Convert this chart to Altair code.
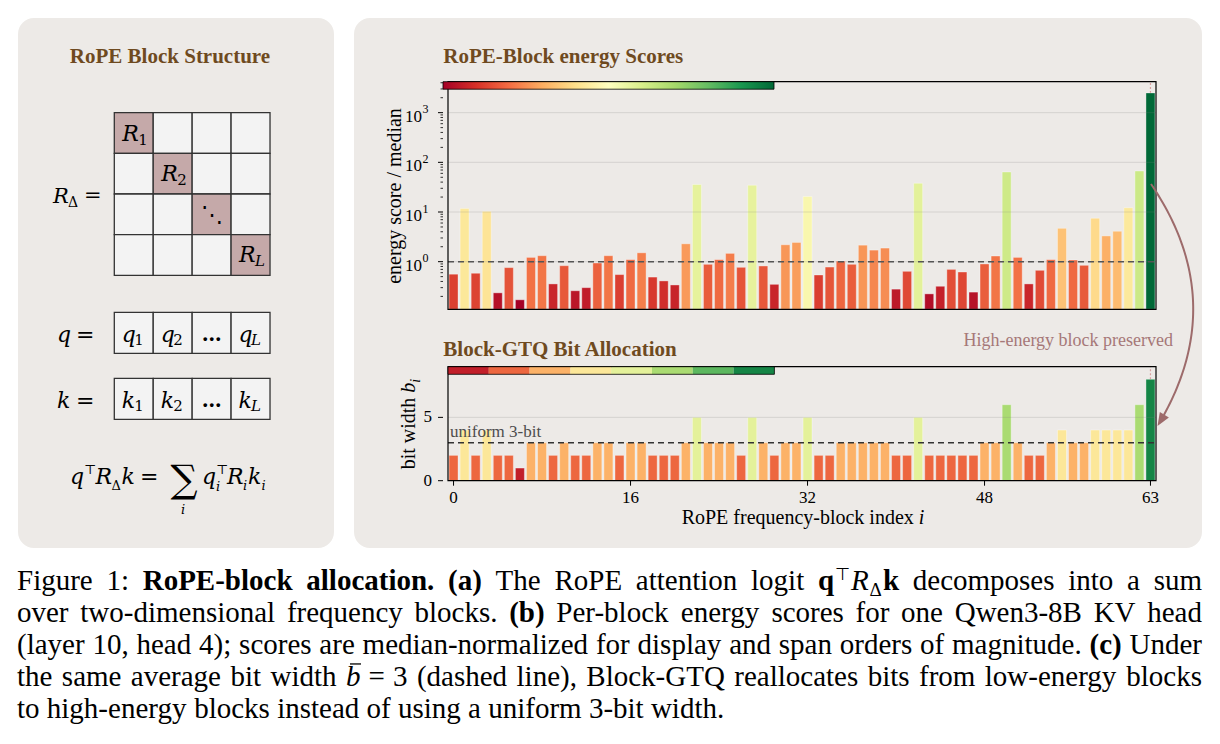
import math
import altair as alt
import pandas as pd

# ---------------- data ----------------
block_index = list(range(64))
energy_score = [
    0.56, 11.7, 0.585, 10.3, 0.236, 0.76, 0.171, 1.22, 1.32, 0.357,
    0.83, 0.26, 0.30, 0.94, 1.32, 0.55, 1.10, 1.51, 0.49, 0.41,
    0.34, 2.29, 35.8, 0.885, 1.10, 1.47, 0.77, 34.7, 0.82, 0.35,
    2.19, 2.44, 20.6, 0.54, 0.78, 1.03, 0.885, 2.15, 1.71, 1.88,
    0.28, 0.64, 38.0, 0.225, 0.32, 0.70, 0.62, 0.244, 0.90, 1.30,
    64.0, 1.22, 0.357, 0.67, 1.10, 4.7, 1.08, 0.845, 7.5, 3.3,
    4.1, 12.2, 67.0, 2500.0,
]
bit_width = [
    2, 4, 2, 4, 2, 2, 1, 3, 3, 2,
    3, 2, 2, 3, 3, 2, 3, 3, 2, 2,
    2, 3, 5, 3, 3, 3, 2, 5, 3, 2,
    3, 3, 5, 2, 2, 3, 3, 3, 3, 3,
    2, 2, 5, 2, 2, 2, 2, 2, 3, 3,
    6, 3, 2, 2, 3, 4, 3, 3, 4, 4,
    4, 4, 6, 8,
]
bit_levels = [1, 2, 3, 4, 5, 6, 7, 8]
decade_ticks = [1, 10, 100, 1000]
decade_base = "10"
decade_exponents = ["0", "1", "2", "3"]
minor_ticks = [0.2, 0.3, 0.4, 0.5, 0.6, 0.7, 0.8, 0.9,
               2, 3, 4, 5, 6, 7, 8, 9,
               20, 30, 40, 50, 60, 70, 80, 90,
               200, 300, 400, 500, 600, 700, 800, 900,
               2000, 3000, 4000]
index_ticks = [0, 16, 32, 48, 63]
bit_ticks = [0, 5]
median_level = 1.0
uniform_bits = 3

# ---------------- styling ----------------
W, H = 1220, 744
SERIF = "Liberation Serif"
MATH = "DejaVu Serif"
PANEL_FILL = "#edeae7"
BROWN = "#6f4a1f"
ROSE = "#c5a9a9"
CELL = "#f3f3f3"
ARROW = "#9d6b6b"
NOTE = "#a67878"
RDYLGN = ["#a50026", "#d73027", "#f46d43", "#fdae61", "#fee08b", "#ffffbf",
          "#d9ef8b", "#a6d96a", "#66bd63", "#1a9850", "#006837"]
TICK_FS = 17

# plot rectangles (pixels)
PX0, PX1 = 443, 1161
TOP_Y0, TOP_Y1 = 81.7, 309.3
BOT_Y0, BOT_Y1 = 366.7, 480.7
X_DOM = [-0.5, 63.5]
E_DOM = [0.11, 4200]
B_DOM = [0, 9]
CBAR_PX = 774  # right end of the inset colour bars

# glyph advance widths (Times metrics, 1/1000 em)
REG_W = {' ': 250, '(': 333, ')': 333, ',': 250, '-': 333, '.': 250, ':': 278, ';': 278,
         '=': 564, '/': 278}
REG_W.update({d: 500 for d in "0123456789"})
REG_W.update(dict(zip("ABCDEFGHIJKLMNOPQRSTUVWXYZ",
                      [722, 667, 667, 722, 611, 556, 722, 722, 333, 389, 722, 611, 889,
                       722, 722, 556, 722, 667, 556, 611, 722, 722, 944, 722, 722, 611])))
REG_W.update(dict(zip("abcdefghijklmnopqrstuvwxyz",
                      [444, 500, 444, 500, 444, 333, 500, 500, 278, 278, 500, 278, 778,
                       500, 500, 500, 500, 333, 389, 278, 500, 500, 722, 500, 500, 444])))
BOLD_W = {' ': 250, '(': 333, ')': 333, '-': 333, '.': 250, 'E': 667, 'P': 611, 'R': 722,
          'a': 500, 'b': 556, 'c': 444, 'i': 278, 'k': 556, 'l': 278, 'n': 556, 'o': 500,
          'q': 556, 't': 333}


def text_width(s, bold=False):
    table = BOLD_W if bold else REG_W
    return sum(table.get(ch, 500) for ch in s) / 1000.0


def T(x, y, t, s, font=SERIF, weight="normal", style="normal", color="black",
      align="left", angle=0):
    return dict(x=x, y=y, t=t, s=s, font=font, weight=weight, style=style,
                color=color, align=align, angle=angle)


def text_layers(items):
    groups = {}
    for it in items:
        key = (it["font"], it["weight"], it["style"], it["color"], it["align"], it["angle"])
        groups.setdefault(key, []).append({"x": it["x"], "y": it["y"], "t": it["t"], "s": it["s"]})
    out = []
    for (font, weight, style, color, align, angle), rows in groups.items():
        out.append(
            alt.Chart(pd.DataFrame(rows))
            .mark_text(font=font, fontWeight=weight, fontStyle=style, color=color,
                       align=align, baseline="alphabetic", angle=angle)
            .encode(x=alt.X("x:Q", scale=None), y=alt.Y("y:Q", scale=None),
                    text="t:N", size=alt.Size("s:Q", scale=None))
        )
    return out


def rect_layer(rows, **mark):
    return (
        alt.Chart(pd.DataFrame(rows))
        .mark_rect(**mark)
        .encode(x=alt.X("x:Q", scale=None), x2="x2:Q",
                y=alt.Y("y:Q", scale=None), y2="y2:Q",
                color=alt.Color("fill:N", scale=None))
    )


# ---------------- background panels ----------------
panels = rect_layer([
    dict(x=18, x2=334, y=18, y2=548, fill=PANEL_FILL),
    dict(x=354, x2=1202, y=18, y2=548, fill=PANEL_FILL),
], cornerRadius=16)

# ---------------- left panel: block-diagonal structure ----------------
GX0, GY0, CW, CH = 114.3, 112.7, 38.93, 40.65
VEC_ROWS = [("q", 312.3), ("k", 378.3)]
VH = 41.0
cells = []
for r in range(4):
    for c in range(4):
        cells.append(dict(x=GX0 + c * CW, x2=GX0 + (c + 1) * CW,
                          y=GY0 + r * CH, y2=GY0 + (r + 1) * CH,
                          fill=ROSE if r == c else CELL))
for _, y0 in VEC_ROWS:
    for c in range(4):
        cells.append(dict(x=GX0 + c * CW, x2=GX0 + (c + 1) * CW, y=y0, y2=y0 + VH, fill=CELL))
grid = rect_layer(cells, stroke="#333333", strokeWidth=1.3)

left_text = [T(170, 63.3, "RoPE Block Structure", 21, weight="bold", color=BROWN, align="center")]
left_text += [T(53, 202.5, "R", 21, font=MATH, style="italic"),
              T(68, 207, "Δ", 14, font=MATH),
              T(84, 202, "=", 21, font=MATH)]
subs = ["1", "2", None, "L"]
for d, sub in enumerate(subs):
    cx = GX0 + (d + 0.5) * CW
    cy = GY0 + (d + 0.5) * CH
    if sub is None:
        left_text.append(T(cx, cy + 7.5, "⋱", 22, font=MATH, align="center"))
    else:
        left_text.append(T(cx - 11.5, cy + 7.5, "R", 22, font=MATH, style="italic"))
        left_text.append(T(cx + 4.5, cy + 11.5, sub, 15, font=MATH,
                           style="italic" if sub == "L" else "normal"))
for name, y0 in VEC_ROWS:
    cy = y0 + VH / 2
    left_text.append(T(57, cy + 9, name, 22, font=MATH, style="italic"))
    left_text.append(T(76, cy + 9, "=", 22, font=MATH))
    for c, sub in enumerate(subs):
        cx = GX0 + (c + 0.5) * CW
        if sub is None:
            left_text.append(T(cx, cy + 8, "…", 20, font=MATH, weight="bold", align="center"))
        else:
            left_text.append(T(cx - 12, cy + 9, name, 22, font=MATH, style="italic"))
            left_text.append(T(cx + 0.5, cy + 12.5, sub, 15, font=MATH,
                               style="italic" if sub == "L" else "normal"))

# q^T R_Δ k = Σ_i q_i^T R_i k_i, laid out glyph by glyph
FB, FF, FS = 484, 22, 13
left_text += [
    T(70, FB, "q", FF, font=MATH, style="italic"),
    T(84, FB - 10, "⊤", FS, font=MATH),
    T(95.5, FB, "R", FF, font=MATH, style="italic"),
    T(111.5, FB + 6, "Δ", FS, font=MATH),
    T(121.5, FB, "k", FF, font=MATH, style="italic"),
    T(140, FB, "=", FF, font=MATH),
    T(184, FB + 8, "∑", 38, font=MATH, align="center"),
    T(183, FB + 30, "i", FS, font=MATH, style="italic", align="center"),
    T(202, FB, "q", FF, font=MATH, style="italic"),
    T(216, FB - 10, "⊤", FS, font=MATH),
    T(216, FB + 7, "i", FS, font=MATH, style="italic"),
    T(227, FB, "R", FF, font=MATH, style="italic"),
    T(243, FB + 6, "i", FS, font=MATH, style="italic"),
    T(248, FB, "k", FF, font=MATH, style="italic"),
    T(261.5, FB + 6, "i", FS, font=MATH, style="italic"),
]

# ---------------- scales ----------------
xs = alt.Scale(domain=X_DOM, range=[PX0, PX1], nice=False, zero=False)
ys_top = alt.Scale(type="log", domain=E_DOM, range=[TOP_Y1, TOP_Y0], nice=False)
ys_bot = alt.Scale(domain=B_DOM, range=[BOT_Y1, BOT_Y0], nice=False, zero=False)
c_top = alt.Scale(type="log", domain=[min(energy_score), max(energy_score)],
                  scheme="redyellowgreen", nice=False)
c_bot = alt.Scale(type="linear", domain=[0.5, 8.5], scheme="redyellowgreen", nice=False)

frac = (CBAR_PX - PX0) / (PX1 - PX0)
cbar_x1 = X_DOM[0] + frac * (X_DOM[1] - X_DOM[0])


def hrule(values, yscale, color, width=1.0, dash=None, opacity=1.0):
    mark = dict(color=color, strokeWidth=width, opacity=opacity)
    if dash:
        mark["strokeDash"] = dash
    return alt.Chart(pd.DataFrame({"v": values, "a": X_DOM[0], "b": X_DOM[1]})).mark_rule(**mark).encode(
        x=alt.X("a:Q", scale=xs, axis=None), x2="b:Q", y=alt.Y("v:Q", scale=yscale, axis=None))


def frame(yscale, lo, hi):
    return alt.Chart(pd.DataFrame({"a": [X_DOM[0]], "b": [X_DOM[1]], "lo": [lo], "hi": [hi]})).mark_rect(
        fill="white", fillOpacity=0, stroke="black", strokeWidth=1.2).encode(
        x=alt.X("a:Q", scale=xs, axis=None), x2="b:Q",
        y=alt.Y("lo:Q", scale=yscale, axis=None), y2="hi:Q")


def y_ticks(values, yscale, length, width=1.0):
    return alt.Chart(pd.DataFrame({"v": values})).mark_rule(color="black", strokeWidth=width).encode(
        y=alt.Y("v:Q", scale=yscale, axis=None), x=alt.value(PX0 - length), x2=alt.value(PX0))


def y_labels(values, labels, yscale, x_right, size=TICK_FS, dy=0, align="right", baseline="middle"):
    return alt.Chart(pd.DataFrame({"v": values, "lab": labels})).mark_text(
        font=SERIF, fontSize=size, align=align, baseline=baseline, color="black", dy=dy).encode(
        y=alt.Y("v:Q", scale=yscale, axis=None), x=alt.value(x_right), text="lab:N")


# ---------------- top panel: energy scores ----------------
df_e = pd.DataFrame({"i": block_index, "e": energy_score, "floor": E_DOM[0]})
top_bars = alt.Chart(df_e).mark_bar(width=9, stroke="white", strokeWidth=0.7, strokeOpacity=0.5).encode(
    x=alt.X("i:Q", scale=xs, axis=None),
    y=alt.Y("e:Q", scale=ys_top, axis=None),
    y2="floor:Q",
    color=alt.Color("e:Q", scale=c_top, legend=None),
)
top_mark63 = alt.Chart(pd.DataFrame({"i": [63], "lo": [energy_score[63]], "hi": [E_DOM[1]]})).mark_rule(
    color="#d9a0a0", strokeDash=[2, 2], strokeWidth=1.2).encode(
    x=alt.X("i:Q", scale=xs, axis=None), y=alt.Y("lo:Q", scale=ys_top, axis=None), y2="hi:Q")
gradient = alt.LinearGradient(
    gradient="linear", x1=0, x2=1, y1=0, y2=0,
    stops=[alt.GradientStop(color=c, offset=k / (len(RDYLGN) - 1)) for k, c in enumerate(RDYLGN)])
top_cbar = alt.Chart(pd.DataFrame({"k": [0]})).mark_rect(color=gradient, stroke="black", strokeWidth=0.8).encode(
    x=alt.value(PX0), x2=alt.value(CBAR_PX), y=alt.value(TOP_Y0), y2=alt.value(89.2))
top_chart = alt.layer(
    top_mark63, top_bars,
    hrule(decade_ticks, ys_top, "#808080", opacity=0.22),
    hrule([median_level], ys_top, "#555555", width=1.5, dash=[6, 4]),
    frame(ys_top, E_DOM[0], E_DOM[1]),
    top_cbar,
    y_ticks(decade_ticks, ys_top, 5),
    y_ticks(minor_ticks, ys_top, 2.5, 0.8),
    # "10" with a raised exponent, like 10^k
    y_labels(decade_ticks, [decade_base] * len(decade_ticks), ys_top, 422, dy=9, baseline="alphabetic"),
    y_labels(decade_ticks, decade_exponents, ys_top, 422.5, size=12, dy=0.5, align="left",
             baseline="alphabetic"),
)

# ---------------- bottom panel: bit allocation ----------------
df_b = pd.DataFrame({"i": block_index, "b": bit_width, "zero": 0})
bot_bars = alt.Chart(df_b).mark_bar(width=9, stroke="white", strokeWidth=0.7, strokeOpacity=0.5).encode(
    x=alt.X("i:Q", scale=xs, axis=None),
    y=alt.Y("b:Q", scale=ys_bot, axis=None),
    y2="zero:Q",
    color=alt.Color("b:Q", scale=c_bot, legend=None),
)
bot_mark63 = alt.Chart(pd.DataFrame({"i": [63], "lo": [bit_width[63]], "hi": [B_DOM[1]]})).mark_rule(
    color="#d9a0a0", strokeDash=[2, 2], strokeWidth=1.2).encode(
    x=alt.X("i:Q", scale=xs, axis=None), y=alt.Y("lo:Q", scale=ys_bot, axis=None), y2="hi:Q")
seg = (cbar_x1 - X_DOM[0]) / len(bit_levels)
cb_lo = B_DOM[1] - (374.3 - BOT_Y0) / (BOT_Y1 - BOT_Y0) * (B_DOM[1] - B_DOM[0])
df_cb = pd.DataFrame({"b": bit_levels,
                      "a": [X_DOM[0] + (lv - 1) * seg for lv in bit_levels],
                      "c": [X_DOM[0] + lv * seg for lv in bit_levels],
                      "lo": cb_lo, "hi": B_DOM[1]})
bot_cbar = alt.Chart(df_cb).mark_rect().encode(
    x=alt.X("a:Q", scale=xs, axis=None), x2="c:Q",
    y=alt.Y("lo:Q", scale=ys_bot, axis=None), y2="hi:Q",
    color=alt.Color("b:Q", scale=c_bot, legend=None))
bot_cbar_box = alt.Chart(pd.DataFrame({"a": [X_DOM[0]], "c": [cbar_x1], "lo": [cb_lo], "hi": [B_DOM[1]]})).mark_rect(
    fill="white", fillOpacity=0, stroke="black", strokeWidth=0.8).encode(
    x=alt.X("a:Q", scale=xs, axis=None), x2="c:Q", y=alt.Y("lo:Q", scale=ys_bot, axis=None), y2="hi:Q")
bot_xticks = alt.Chart(pd.DataFrame({"v": index_ticks})).mark_rule(color="black", strokeWidth=1).encode(
    x=alt.X("v:Q", scale=xs, axis=None), y=alt.value(BOT_Y1), y2=alt.value(BOT_Y1 + 5))
bot_xlabels = alt.Chart(pd.DataFrame({"v": index_ticks, "lab": [str(v) for v in index_ticks]})).mark_text(
    font=SERIF, fontSize=TICK_FS, align="center", baseline="alphabetic", color="black").encode(
    x=alt.X("v:Q", scale=xs, axis=None), y=alt.value(503), text="lab:N")
bot_chart = alt.layer(
    bot_mark63, bot_bars,
    hrule([5], ys_bot, "#808080", opacity=0.22),
    hrule([uniform_bits], ys_bot, "#333333", width=1.5, dash=[6, 4]),
    frame(ys_bot, B_DOM[0], B_DOM[1]),
    bot_cbar, bot_cbar_box,
    y_ticks(bit_ticks, ys_bot, 5),
    y_labels(bit_ticks, [str(v) for v in bit_ticks], ys_bot, PX0 - 11),
    bot_xticks, bot_xlabels,
)

# ---------------- panel titles, axis titles, annotation ----------------
chart_text = [
    T(443.3, 63, "RoPE-Block energy Scores", 21, weight="bold", color=BROWN),
    T(443.3, 356, "Block-GTQ Bit Allocation", 21, weight="bold", color=BROWN),
    T(450, 436.5, "uniform 3-bit", 17, color="#4d4d4d"),
    T(1173, 346, "High-energy block preserved", 18, color=NOTE, align="right"),
    T(401, 196, "energy score / median", 20, angle=270, align="center"),
]
xt = "RoPE frequency-block index"
xt_w = (text_width(xt) + 0.25 + 0.278) * 20
xt_x = 803 - xt_w / 2
chart_text += [T(xt_x, 524, xt, 20), T(xt_x + (text_width(xt) + 0.25) * 20, 524, "i", 20, style="italic")]
yt = "bit width"
yt_len = (text_width(yt) + 0.25 + 0.5 + 0.2) * 20
yt_start = 424 + yt_len / 2
chart_text += [
    T(415, yt_start, yt, 20, angle=270),
    T(415, yt_start - (text_width(yt) + 0.25) * 20, "b", 20, style="italic", angle=270),
    T(420, yt_start - (text_width(yt) + 0.25 + 0.5) * 20, "i", 14, style="italic", angle=270),
]

# curved arrow from the top bar to the bottom bar (quadratic Bézier)
A0, A1, A2 = (1151.0, 184.0), (1232.0, 303.0), (1157.5, 426.0)


def bez(t):
    u = 1 - t
    return (u * u * A0[0] + 2 * u * t * A1[0] + t * t * A2[0],
            u * u * A0[1] + 2 * u * t * A1[1] + t * t * A2[1])


arrow_pts = [dict(t=k, x=bez(k / 60 * 0.955)[0], y=bez(k / 60 * 0.955)[1]) for k in range(61)]
arrow_line = alt.Chart(pd.DataFrame(arrow_pts)).mark_line(color=ARROW, strokeWidth=2).encode(
    x=alt.X("x:Q", scale=None), y=alt.Y("y:Q", scale=None), order="t:Q")
head_angle = math.degrees(math.atan2(A2[0] - A1[0], -(A2[1] - A1[1]))) % 360
arrow_head = alt.Chart(pd.DataFrame({"k": [0]})).mark_point(
    shape="M0,0L-0.4,1L0.4,1Z", filled=True, size=700, angle=head_angle,
    color=ARROW, opacity=1, strokeWidth=0).encode(x=alt.value(A2[0]), y=alt.value(A2[1]))

# ---------------- caption (justified lines) ----------------
CAP_FS = 29
CAP_X0, CAP_X1 = 17, 1202
CAP_BASE = [590, 622, 654, 686, 718]
caption_lines = [
    "Figure 1: *RoPE-block *allocation. *(a) The RoPE attention logit $qRk decomposes into a sum",
    "over two-dimensional frequency blocks. *(b) Per-block energy scores for one Qwen3-8B KV head",
    "(layer 10, head 4); scores are median-normalized for display and span orders of magnitude. *(c) Under",
    "the same average bit width $b3 (dashed line), Block-GTQ reallocates bits from low-energy blocks",
    "to high-energy blocks instead of using a uniform 3-bit width.",
]
cap_rules = []


def build_qrk(x, base, fs):
    items = [T(x, base, "q", fs, weight="bold")]
    cx = x + 0.58 * fs
    items.append(T(cx, base - 0.36 * fs, "⊤", 0.6 * fs, font="DejaVu Sans"))
    cx += 0.56 * fs
    items.append(T(cx, base, "R", fs, style="italic"))
    cx += 0.64 * fs
    items.append(T(cx, base + 0.22 * fs, "Δ", 0.66 * fs))
    cx += 0.46 * fs
    items.append(T(cx, base, "k", fs, weight="bold"))
    cx += 0.556 * fs
    return items, [], cx - x


def build_b3(x, base, fs):
    items = [T(x, base, "b", fs, style="italic")]
    bar = [dict(x=x + 0.14 * fs, x2=x + 0.52 * fs, y=base - 0.76 * fs)]
    cx = x + 0.5 * fs + 0.28 * fs
    items.append(T(cx, base, "=", fs))
    cx += 0.564 * fs + 0.28 * fs
    items.append(T(cx, base, "3", fs))
    cx += 0.5 * fs
    return items, bar, cx - x


builders = {"$qRk": build_qrk, "$b3": build_b3}
cap_text = []
for li, line in enumerate(caption_lines):
    base = CAP_BASE[li]
    words = line.split(" ")
    widths = []
    for w in words:
        if w in builders:
            widths.append(builders[w](0, base, CAP_FS)[2])
        elif w.startswith("*"):
            widths.append(text_width(w[1:], True) * CAP_FS)
        else:
            widths.append(text_width(w) * CAP_FS)
    justify = li < len(caption_lines) - 1
    gap = (CAP_X1 - CAP_X0 - sum(widths)) / (len(words) - 1) if justify else 0.25 * CAP_FS
    x = CAP_X0
    for k, (w, wd) in enumerate(zip(words, widths)):
        last = justify and k == len(words) - 1
        if w in builders:
            its, bars, _ = builders[w](x, base, CAP_FS)
            cap_text += its
            cap_rules += bars
        else:
            bold = w.startswith("*")
            word = w[1:] if bold else w
            cap_text.append(T(CAP_X1 if last else x, base, word, CAP_FS,
                              weight="bold" if bold else "normal",
                              align="right" if last else "left"))
        x += wd + gap

macron = alt.Chart(pd.DataFrame(cap_rules)).mark_rule(color="black", strokeWidth=1.3).encode(
    x=alt.X("x:Q", scale=None), x2="x2:Q", y=alt.Y("y:Q", scale=None))

# ---------------- assemble ----------------
layers = [panels, grid] + text_layers(left_text) + [top_chart, bot_chart, arrow_line, arrow_head, macron]
layers += text_layers(chart_text + cap_text)

chart = (
    alt.layer(*layers)
    .resolve_scale(x="independent", y="independent", color="independent")
    .properties(width=W, height=H, autosize=alt.AutoSizeParams(type="none"), padding=0,
                background="white")
    .configure_view(stroke=None)
)

chart.save("out.html", embed_options={"renderer": "svg", "actions": False})
